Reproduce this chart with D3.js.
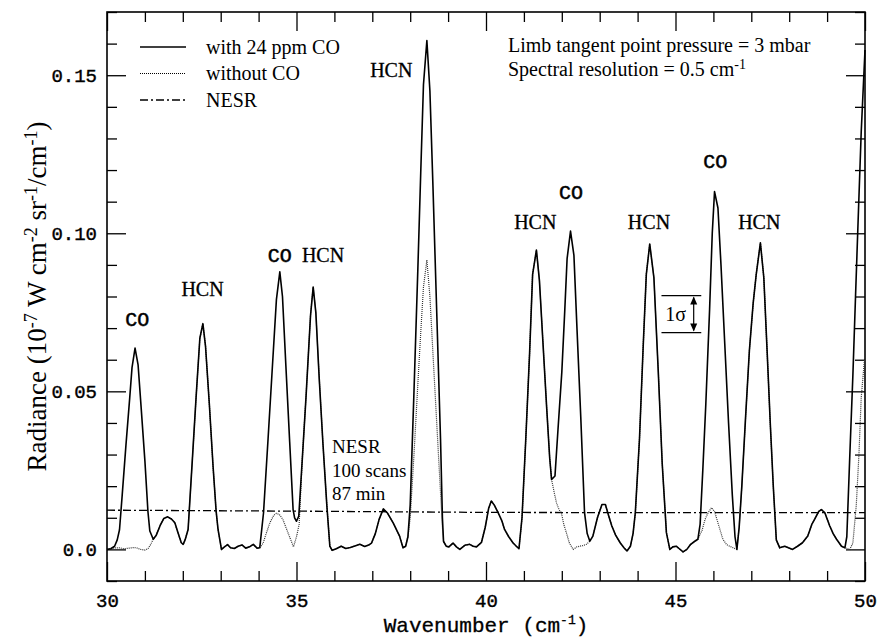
<!DOCTYPE html>
<html>
<head>
<meta charset="utf-8">
<script src="https://cdn.jsdelivr.net/npm/d3@7"></script>
<style>
  body { margin: 0; background: #fff; }
  svg { display: block; }
  .serif { font-family: "Liberation Serif", "Times New Roman", serif; }
  .mono { font-family: "Liberation Mono", "Courier New", monospace; }
</style>
</head>
<body>
<div id="chart"></div>
<script>
// limb spectrum, 30-50 cm-1, radiance in 1e-7 W cm-2 sr-1 / cm-1
var withCO = [
  [30.00,0.0000],[30.10,0.0002],[30.20,0.0010],[30.27,0.0030],[30.33,0.0062],[30.40,0.0170],[30.50,0.0330],
  [30.60,0.0480],[30.66,0.0575],[30.74,0.0637],[30.82,0.0584],[30.90,0.0450],[31.00,0.0280],[31.08,0.0120],
  [31.13,0.0058],[31.22,0.0032],[31.30,0.0045],[31.40,0.0075],[31.50,0.0098],[31.60,0.0103],[31.70,0.0096],
  [31.79,0.0084],[31.88,0.0050],[31.96,0.0021],[32.01,0.0016],[32.06,0.0030],[32.14,0.0063],[32.25,0.0280],
  [32.35,0.0480],[32.45,0.0668],[32.53,0.0714],[32.60,0.0642],[32.70,0.0460],[32.80,0.0260],[32.88,0.0120],
  [32.93,0.0063],[33.02,0.0000],[33.10,0.0008],[33.18,0.0015],[33.26,0.0005],[33.36,0.0003],[33.46,0.0010],
  [33.56,0.0014],[33.66,0.0004],[33.76,0.0008],[33.86,0.0016],[33.96,0.0004],[34.03,0.0005],[34.13,0.0116],
  [34.25,0.0350],[34.35,0.0550],[34.47,0.0790],[34.56,0.0878],[34.63,0.0800],[34.72,0.0580],[34.82,0.0340],
  [34.91,0.0126],[34.95,0.0100],[35.00,0.0089],[35.06,0.0105],[35.15,0.0280],[35.25,0.0480],[35.37,0.0740],
  [35.44,0.0830],[35.51,0.0750],[35.60,0.0540],[35.70,0.0330],[35.80,0.0140],[35.88,0.0010],[35.94,-0.0003],
  [36.05,0.0002],[36.18,0.0010],[36.30,0.0003],[36.42,0.0006],[36.54,0.0011],[36.67,0.0016],[36.80,0.0009],
  [36.92,0.0015],[36.98,0.0020],[37.08,0.0050],[37.18,0.0095],[37.29,0.0128],[37.40,0.0115],[37.55,0.0084],
  [37.72,0.0042],[37.81,0.0005],[37.88,0.0010],[37.94,0.0040],[38.00,0.0140],[38.10,0.0500],[38.20,0.0880],
  [38.28,0.1200],[38.35,0.1470],[38.44,0.1610],[38.52,0.1450],[38.60,0.1150],[38.70,0.0750],[38.80,0.0350],
  [38.85,0.0100],[38.88,0.0025],[38.95,0.0010],[39.02,0.0008],[39.13,0.0020],[39.22,0.0008],[39.31,0.0000],
  [39.44,0.0013],[39.57,0.0016],[39.66,0.0010],[39.75,0.0008],[39.88,0.0022],[39.98,0.0070],[40.07,0.0130],
  [40.14,0.0153],[40.22,0.0140],[40.32,0.0116],[40.42,0.0090],[40.49,0.0063],[40.60,0.0040],[40.71,0.0021],
  [40.80,0.0010],[40.87,0.0002],[40.95,0.0100],[41.05,0.0350],[41.15,0.0620],[41.23,0.0870],[41.33,0.0947],
  [41.41,0.0850],[41.50,0.0660],[41.60,0.0450],[41.68,0.0290],[41.73,0.0221],[41.82,0.0232],[41.90,0.0380],
  [42.00,0.0560],[42.08,0.0760],[42.14,0.0920],[42.23,0.1007],[42.32,0.0930],[42.40,0.0700],[42.50,0.0420],
  [42.60,0.0116],[42.67,0.0050],[42.74,0.0026],[42.82,0.0042],[42.94,0.0100],[43.06,0.0142],[43.15,0.0142],
  [43.24,0.0105],[43.32,0.0074],[43.42,0.0045],[43.54,0.0021],[43.64,0.0005],[43.72,-0.0005],[43.81,0.0010],
  [43.88,0.0050],[43.94,0.0116],[44.05,0.0350],[44.15,0.0650],[44.23,0.0870],[44.32,0.0966],[44.43,0.0860],
  [44.55,0.0550],[44.65,0.0270],[44.76,0.0053],[44.85,0.0000],[44.93,0.0008],[45.02,0.0010],[45.10,0.0002],
  [45.20,-0.0008],[45.30,0.0000],[45.40,0.0016],[45.50,0.0025],[45.59,0.0032],[45.65,0.0080],[45.72,0.0250],
  [45.80,0.0460],[45.90,0.0760],[45.97,0.1000],[46.03,0.1132],[46.12,0.1080],[46.20,0.0900],[46.30,0.0650],
  [46.40,0.0400],[46.50,0.0170],[46.57,0.0040],[46.62,0.0000],[46.68,0.0070],[46.75,0.0200],[46.85,0.0420],
  [46.95,0.0630],[47.05,0.0780],[47.13,0.0870],[47.24,0.0970],[47.33,0.0860],[47.42,0.0620],[47.50,0.0400],
  [47.58,0.0200],[47.66,0.0030],[47.75,0.0005],[47.88,0.0010],[47.98,0.0005],[48.09,0.0000],[48.22,0.0010],
  [48.35,0.0021],[48.49,0.0042],[48.60,0.0080],[48.67,0.0095],[48.78,0.0120],[48.85,0.0126],[48.94,0.0116],
  [49.07,0.0074],[49.16,0.0050],[49.25,0.0032],[49.38,0.0010],[49.47,0.0005],[49.52,0.0040],[49.60,0.0300],
  [49.68,0.0550],[49.75,0.0800],[49.83,0.1080],[49.90,0.1320],[50.00,0.1580]
];

var withoutCO = [
  [30.00,0.0000],[30.10,0.0003],[30.20,0.0005],[30.33,0.0005],[30.45,0.0002],[30.58,0.0004],[30.72,0.0006],
  [30.80,0.0004],[30.88,0.0000],[31.00,-0.0002],[31.08,0.0002],[31.15,0.0015],[31.22,0.0032],[31.30,0.0045],
  [31.40,0.0075],[31.50,0.0098],[31.60,0.0103],[31.70,0.0096],[31.79,0.0084],[31.88,0.0050],[31.96,0.0021],
  [32.01,0.0016],[32.06,0.0030],[32.14,0.0063],[32.25,0.0280],[32.35,0.0480],[32.45,0.0668],[32.53,0.0714],
  [32.60,0.0642],[32.70,0.0460],[32.80,0.0260],[32.88,0.0120],[32.93,0.0063],[33.02,0.0000],[33.10,0.0008],
  [33.18,0.0015],[33.26,0.0005],[33.36,0.0003],[33.46,0.0010],[33.56,0.0014],[33.66,0.0004],[33.76,0.0008],
  [33.86,0.0016],[33.96,0.0004],[34.03,0.0005],[34.12,0.0020],[34.20,0.0050],[34.30,0.0085],[34.40,0.0108],
  [34.47,0.0114],[34.55,0.0110],[34.64,0.0095],[34.72,0.0070],[34.81,0.0042],[34.92,0.0008],[35.00,0.0040],
  [35.07,0.0079],[35.15,0.0280],[35.25,0.0480],[35.37,0.0740],[35.44,0.0830],[35.51,0.0750],[35.60,0.0540],
  [35.70,0.0330],[35.80,0.0140],[35.88,0.0010],[35.94,-0.0003],[36.05,0.0002],[36.18,0.0010],[36.30,0.0003],
  [36.42,0.0006],[36.54,0.0011],[36.67,0.0016],[36.80,0.0009],[36.92,0.0015],[36.98,0.0020],[37.08,0.0050],
  [37.18,0.0095],[37.29,0.0128],[37.40,0.0115],[37.55,0.0084],[37.72,0.0042],[37.81,0.0005],[37.88,0.0010],
  [37.94,0.0040],[38.00,0.0100],[38.10,0.0300],[38.20,0.0520],[38.28,0.0690],[38.35,0.0830],[38.44,0.0915],
  [38.52,0.0800],[38.60,0.0620],[38.70,0.0400],[38.80,0.0180],[38.85,0.0070],[38.88,0.0025],[38.95,0.0010],
  [39.02,0.0008],[39.13,0.0020],[39.22,0.0008],[39.31,0.0000],[39.44,0.0013],[39.57,0.0016],[39.66,0.0010],
  [39.75,0.0008],[39.88,0.0022],[39.98,0.0070],[40.07,0.0130],[40.14,0.0153],[40.22,0.0140],[40.32,0.0116],
  [40.42,0.0090],[40.49,0.0063],[40.60,0.0040],[40.71,0.0021],[40.80,0.0010],[40.87,0.0002],[40.95,0.0100],
  [41.05,0.0350],[41.15,0.0620],[41.23,0.0870],[41.33,0.0947],[41.41,0.0850],[41.50,0.0660],[41.60,0.0450],
  [41.68,0.0290],[41.73,0.0221],[41.80,0.0180],[41.86,0.0147],[41.93,0.0125],[41.99,0.0116],[42.05,0.0080],
  [42.12,0.0053],[42.20,0.0020],[42.30,0.0000],[42.40,0.0008],[42.47,0.0010],[42.56,0.0012],[42.65,0.0016],
  [42.74,0.0026],[42.82,0.0042],[42.94,0.0100],[43.06,0.0142],[43.15,0.0142],[43.24,0.0105],[43.32,0.0074],
  [43.42,0.0045],[43.54,0.0021],[43.64,0.0005],[43.72,-0.0005],[43.81,0.0010],[43.88,0.0050],[43.94,0.0116],
  [44.05,0.0350],[44.15,0.0650],[44.23,0.0870],[44.32,0.0966],[44.43,0.0860],[44.55,0.0550],[44.65,0.0270],
  [44.76,0.0053],[44.85,0.0000],[44.93,0.0008],[45.02,0.0010],[45.10,0.0002],[45.20,-0.0008],[45.30,0.0000],
  [45.40,0.0016],[45.50,0.0025],[45.59,0.0032],[45.70,0.0060],[45.78,0.0095],[45.86,0.0116],[45.95,0.0132],
  [46.03,0.0120],[46.12,0.0084],[46.25,0.0032],[46.35,0.0015],[46.43,0.0010],[46.52,0.0005],[46.62,0.0000],
  [46.68,0.0070],[46.75,0.0200],[46.85,0.0420],[46.95,0.0630],[47.05,0.0780],[47.13,0.0870],[47.24,0.0970],
  [47.33,0.0860],[47.42,0.0620],[47.50,0.0400],[47.58,0.0200],[47.66,0.0030],[47.75,0.0005],[47.88,0.0010],
  [47.98,0.0005],[48.09,0.0000],[48.22,0.0010],[48.35,0.0021],[48.49,0.0042],[48.60,0.0080],[48.67,0.0095],
  [48.78,0.0120],[48.85,0.0126],[48.94,0.0116],[49.07,0.0074],[49.16,0.0050],[49.25,0.0032],[49.38,0.0010],
  [49.47,0.0005],[49.55,0.0002],[49.60,0.0000],[49.68,0.0020],[49.77,0.0140],[49.84,0.0300],[49.90,0.0480],
  [50.00,0.0620]
];

// noise equivalent spectral radiance, 100 scans
var nesr = [[30,0.0124],[35,0.0121],[40,0.0117],[45,0.0116],[50,0.0116]];
var sigma = 0.0117;

var peakLabels = [
  {wn:30.80, val:0.0730, text:"CO"},
  {wn:32.52, val:0.0824, text:"HCN"},
  {wn:34.56, val:0.0931, text:"CO"},
  {wn:35.70, val:0.0931, text:"HCN"},
  {wn:37.50, val:0.1517, text:"HCN"},
  {wn:41.30, val:0.1036, text:"HCN"},
  {wn:42.24, val:0.1131, text:"CO"},
  {wn:44.30, val:0.1036, text:"HCN"},
  {wn:46.05, val:0.1229, text:"CO"},
  {wn:47.21, val:0.1036, text:"HCN"}
];

var xMajor = [30,35,40,45,50];

var W = 877, H = 642;
var margin = {top: 12, right: 12, bottom: 61, left: 107};
var width = W - margin.left - margin.right;
var height = H - margin.top - margin.bottom;

var svg = d3.select("#chart").append("svg")
  .attr("width", W).attr("height", H);
var g = svg.append("g").attr("transform", "translate(" + margin.left + "," + margin.top + ")");

var x = d3.scaleLinear().domain([30, 50]).range([0, width]);
var y = d3.scaleLinear().domain([-0.01, 0.17]).range([height, 0]);

var xTicks = d3.range(30, 51);
var yTicks = d3.range(-1, 18).map(function(i){ return i / 100; });
function isXMajor(d){ return xMajor.indexOf(d) >= 0; }
function isYMajor(d){ return Math.round(d * 100) % 5 === 0; }

// axes, ticks pointing inward on all four sides
var axBottom = g.append("g").attr("transform", "translate(0," + height + ")")
  .call(d3.axisBottom(x).tickValues(xTicks).tickSize(-10).tickPadding(13)
    .tickFormat(function(d){ return isXMajor(d) ? d : ""; }));
axBottom.selectAll(".tick line").attr("y2", function(d){ return isXMajor(d) ? -19 : -10; });

var axTop = g.append("g")
  .call(d3.axisTop(x).tickValues(xTicks).tickSize(-10).tickFormat(""));
axTop.selectAll(".tick line").attr("y2", function(d){ return isXMajor(d) ? 19 : 10; });

var axLeft = g.append("g")
  .call(d3.axisLeft(y).tickValues(yTicks).tickSize(-10).tickPadding(10)
    .tickFormat(function(d){
      if (!isYMajor(d) || d < 0) return "";
      return d === 0 ? "0.0" : d3.format(".2f")(d);
    }));
axLeft.selectAll(".tick line").attr("x2", function(d){ return isYMajor(d) ? 19 : 10; });

var axRight = g.append("g").attr("transform", "translate(" + width + ",0)")
  .call(d3.axisRight(y).tickValues(yTicks).tickSize(-10).tickFormat(""));
axRight.selectAll(".tick line").attr("x2", function(d){ return isYMajor(d) ? -19 : -10; });

g.selectAll(".domain").remove();
g.selectAll(".tick line").attr("stroke", "#000").attr("stroke-width", 1.3);
g.selectAll(".tick text").attr("class", "mono").style("font-size", "19px").attr("fill", "#000")
  .attr("stroke", "#000").attr("stroke-width", 0.4);

g.append("rect").attr("width", width).attr("height", height)
  .attr("fill", "none").attr("stroke", "#000").attr("stroke-width", 1.6);

var line = d3.line()
  .x(function(d){ return x(d[0]); })
  .y(function(d){ return y(d[1]); });

var plot = g.append("g");

plot.append("path").datum(nesr).attr("d", line)
  .attr("fill", "none").attr("stroke", "#000").attr("stroke-width", 1.3)
  .attr("stroke-dasharray", "8,3,2,3");

plot.append("path").datum(withoutCO).attr("d", line)
  .attr("fill", "none").attr("stroke", "#333").attr("stroke-width", 1.2)
  .attr("stroke-dasharray", "1,1");

plot.append("path").datum(withCO).attr("d", line)
  .attr("fill", "none").attr("stroke", "#000").attr("stroke-width", 1.6)
  .attr("stroke-linejoin", "round");

// species labels over the lines
g.selectAll(".peak").data(peakLabels).enter().append("text")
  .attr("class", function(d){ return d.text === "CO" ? "peak mono" : "peak serif"; })
  .attr("x", function(d){ return x(d.wn); })
  .attr("y", function(d){ return y(d.val); })
  .attr("text-anchor", "middle")
  .attr("dy", "0.35em")
  .style("font-size", "20px")
  .attr("stroke", "#000")
  .attr("stroke-width", function(d){ return d.text === "CO" ? 0.5 : 0.3; })
  .text(function(d){ return d.text; });

// 1 sigma bar
var sigBase = 0.0686;
var sx0 = x(44.63), sx1 = x(45.68), sxa = x(45.48);
var sig = g.append("g").attr("stroke", "#000").attr("stroke-width", 1.2);
sig.append("line").attr("x1", sx0).attr("x2", sx1).attr("y1", y(sigBase + sigma)).attr("y2", y(sigBase + sigma));
sig.append("line").attr("x1", sx0).attr("x2", sx1).attr("y1", y(sigBase)).attr("y2", y(sigBase));
sig.append("line").attr("x1", sxa).attr("x2", sxa).attr("y1", y(sigBase + sigma) + 2).attr("y2", y(sigBase) - 2);
sig.append("path").attr("stroke", "none").attr("fill", "#000")
  .attr("d", "M" + sxa + "," + (y(sigBase + sigma) + 1) + "l-3.5,8h7z");
sig.append("path").attr("stroke", "none").attr("fill", "#000")
  .attr("d", "M" + sxa + "," + (y(sigBase) - 1) + "l-3.5,-8h7z");
g.append("text").attr("class", "serif")
  .attr("x", (sx0 + sxa) / 2 - 2).attr("y", y(sigBase + sigma / 2))
  .attr("dy", "0.35em").attr("text-anchor", "middle").style("font-size", "20px")
  .text("1σ");

// NESR note
var note = g.append("text").attr("class", "serif").style("font-size", "19px")
  .attr("x", 332 - margin.left).attr("y", 453 - margin.top);
["NESR", "100 scans", "87 min"].forEach(function(t, i){
  note.append("tspan").attr("x", 332 - margin.left).attr("dy", i ? 23.5 : 0).text(t);
});

// legend
var legend = svg.append("g").attr("class", "serif").style("font-size", "20px");
var legendRows = [
  {label: "with 24 ppm CO", dash: null, w: 1.4},
  {label: "without CO", dash: "1,1", w: 1.2},
  {label: "NESR", dash: "8,3,2,3", w: 1.3}
];
legendRows.forEach(function(r, i){
  var ly = 47 + i * 26.5;
  legend.append("line").attr("x1", 140).attr("x2", 186).attr("y1", ly).attr("y2", ly)
    .attr("stroke", "#000").attr("stroke-width", r.w)
    .attr("stroke-dasharray", r.dash);
  legend.append("text").attr("x", 206).attr("y", ly).attr("dy", "0.33em").text(r.label);
});

// run conditions
var cond = svg.append("g").attr("class", "serif").style("font-size", "20px");
cond.append("text").attr("x", 508).attr("y", 52).text("Limb tangent point pressure = 3 mbar");
var res = cond.append("text").attr("x", 508).attr("y", 76);
res.append("tspan").text("Spectral resolution = 0.5 cm");
res.append("tspan").attr("dy", -7).style("font-size", "14px").text("-1");

// axis titles
var xt = svg.append("text").attr("class", "mono").style("font-size", "21px")
  .attr("stroke", "#000").attr("stroke-width", 0.3)
  .attr("x", margin.left + width / 2).attr("y", 632).attr("text-anchor", "middle");
xt.append("tspan").text("Wavenumber (cm");
xt.append("tspan").attr("dy", -8).style("font-size", "13px").text("-1");
xt.append("tspan").attr("dy", 8).text(")");

var yt = svg.append("text").attr("class", "serif").style("font-size", "27px")
  .attr("transform", "translate(46," + (margin.top + height / 2) + ") rotate(-90)")
  .attr("text-anchor", "middle");
var ySup = function(t){ yt.append("tspan").attr("dy", -9).style("font-size", "18px").text(t); };
var yBase = function(t){ yt.append("tspan").attr("dy", 9).text(t); };
yt.append("tspan").text("Radiance (10");
ySup("-7");
yBase(" W cm");
ySup("-2");
yBase(" sr");
ySup("-1");
yBase("/cm");
ySup("-1");
yBase(")");
</script>
</body>
</html>
